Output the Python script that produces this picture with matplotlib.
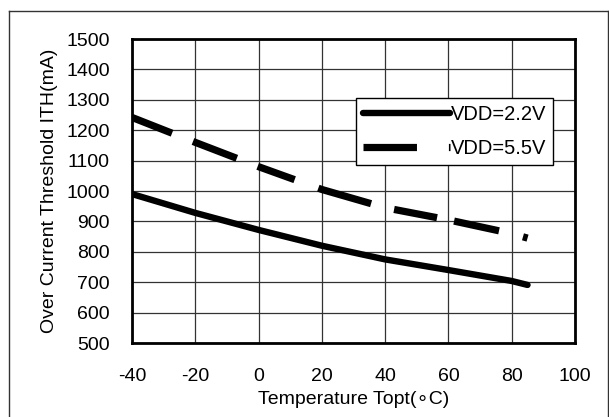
import matplotlib
matplotlib.use("Agg")
import matplotlib.pyplot as plt
from matplotlib.lines import Line2D

plt.rcParams['font.family'] = ['Liberation Sans', 'DejaVu Sans']
plt.rcParams['axes.unicode_minus'] = False
plt.rcParams['lines.scale_dashes'] = False

temps_22 = [-40, -20, 0, 20, 40, 60, 80, 85]
ith_22 = [990, 928, 872, 820, 775, 740, 704, 691]
temps_55 = [-40, -20, 0, 20, 40, 60, 80, 85]
ith_55 = [1242, 1160, 1080, 1005, 945, 905, 860, 845]
labels = ['VDD=2.2V', 'VDD=5.5V']
xticks = [-40, -20, 0, 20, 40, 60, 80, 100]
yticks = [500, 600, 700, 800, 900, 1000, 1100, 1200, 1300, 1400, 1500]

W, H = 609, 417
fig = plt.figure(figsize=(W / 100, H / 100), dpi=100)
ax = fig.add_axes([132 / W, 1 - 343 / H, (575 - 132) / W, (343 - 39) / H])

dash_seq = (31, 16.2, 33.8, 16.1, 28.3, 18.1, 39.6, 17.1, 31.5, 12.5, 33.1, 17.8, 40, 20)
ax.plot(temps_22, ith_22, color='black', lw=4.6, solid_capstyle='round',
        solid_joinstyle='round')
ax.plot(temps_55, ith_55, color='black', lw=5.2, dashes=dash_seq,
        dash_capstyle='butt')

ax.set_xlim(-40, 100)
ax.set_ylim(500, 1500)
ax.set_xticks(xticks)
ax.set_yticks(yticks)
ax.grid(True, color='#333333', lw=0.9)
ax.set_axisbelow(True)
for s in ax.spines.values():
    s.set_linewidth(2.0)
    s.set_color('black')
ax.tick_params(axis='both', length=0, labelsize=14)
ax.tick_params(axis='y', pad=16)
ax.tick_params(axis='x', pad=18)

ax.set_xlabel('Temperature Topt(\u2218C)', fontsize=14, labelpad=4)
ax.set_ylabel('Over Current Threshold ITH(mA)', fontsize=14, labelpad=6)

h1 = Line2D([], [], color='black', lw=4.6, solid_capstyle='round')
h2 = Line2D([], [], color='black', lw=5.2, dashes=(38.5, 23), dash_capstyle='butt')
leg = ax.legend([h1, h2], labels, loc='upper left', bbox_to_anchor=(356 / W, 1 - 98 / H),
                bbox_transform=fig.transFigure, fontsize=14.5, frameon=True,
                fancybox=False, edgecolor='black', framealpha=1,
                handlelength=4.3, handletextpad=0.05, borderpad=0.35,
                labelspacing=0.75, borderaxespad=0)
leg.get_frame().set_linewidth(1.0)

# outer frame
fig.add_artist(Line2D([8.5 / W, 8.5 / W], [0, 1 - 10.5 / H], transform=fig.transFigure, color='#333333', lw=1))
fig.add_artist(Line2D([8.5 / W, 607.5 / W], [1 - 10.5 / H, 1 - 10.5 / H], transform=fig.transFigure, color='#333333', lw=1))
fig.add_artist(Line2D([607.5 / W, 607.5 / W], [0, 1 - 10.5 / H], transform=fig.transFigure, color='#333333', lw=1))

fig.savefig('out.png', dpi=100)
